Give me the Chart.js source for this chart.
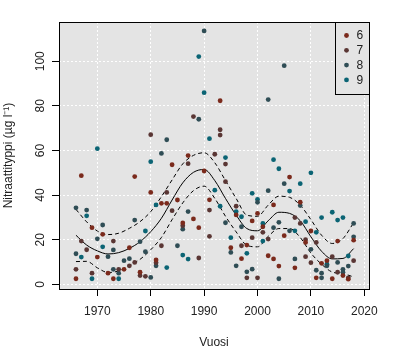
<!DOCTYPE html>
<html>
<head>
<meta charset="utf-8">
<script src="https://cdn.jsdelivr.net/npm/chart.js@4"></script>
<style>
  body { margin: 0; background: #fff; }
  #wrap { width: 400px; height: 363px; }
</style>
</head>
<body>
<div id="wrap"><canvas id="myChart"></canvas></div>
<script>
// measurements per month (x = year, y = nitrate)
const month6 = [
  {x:1966,y:2.5},{x:1967,y:48.7},{x:1969,y:25.4},{x:1970,y:12.2},{x:1971,y:22.4},{x:1972,y:5.0},
  {x:1973,y:2.5},{x:1975,y:6.7},{x:1976,y:16.4},{x:1977,y:48.3},{x:1978,y:5.4},{x:1980,y:41.2},
  {x:1981,y:10.9},{x:1982,y:36.3},{x:1983,y:36.3},{x:1984,y:53.6},{x:1985,y:37.8},{x:1986,y:27.5},
  {x:1987,y:57.7},{x:1988,y:29.3},{x:1989,y:25.4},{x:1990,y:50.8},{x:1991,y:37.9},{x:1993,y:82.3},
  {x:1995,y:16.4},{x:1996,y:31.1},{x:1997,y:11.5},{x:1998,y:17.6},{x:1999,y:28.4},{x:2000,y:31.8},
  {x:2001,y:25.8},{x:2002,y:12.8},{x:2003,y:35.6},{x:2003,y:11.4},{x:2004,y:8.2},{x:2005,y:21.8},
  {x:2006,y:48.1},{x:2007,y:7.4},{x:2008,y:36.8},{x:2009,y:18.8},{x:2010,y:23.9},{x:2011,y:2.9},
  {x:2012,y:9.4},{x:2013,y:10.6},{x:2014,y:2.5},{x:2015,y:19.4},{x:2016,y:3.9},{x:2017,y:2.3},
  {x:2018,y:19.8}
];
const month7 = [
  {x:1966,y:6.7},{x:1967,y:19.4},{x:1968,y:15.5},{x:1969,y:5.0},{x:1973,y:19.4},{x:1974,y:6.7},
  {x:1976,y:8.3},{x:1977,y:9.8},{x:1978,y:3.9},{x:1979,y:3.6},{x:1980,y:67.1},{x:1981,y:9.7},
  {x:1982,y:17.3},{x:1983,y:41.2},{x:1984,y:33.0},{x:1986,y:26.3},{x:1987,y:54.1},{x:1988,y:75.2},
  {x:1989,y:11.8},{x:1991,y:33.3},{x:1991,y:21.5},{x:1992,y:58.3},{x:1993,y:69.3},{x:1993,y:66.9},
  {x:1994,y:53.9},{x:1994,y:46.0},{x:1996,y:35.0},{x:1997,y:17.3},{x:1998,y:2.9},{x:1999,y:20.9},
  {x:2000,y:2.9},{x:2001,y:23.3},{x:2002,y:20.3},{x:2007,y:29.9},{x:2008,y:27.3},{x:2009,y:20.0},
  {x:2009,y:12.4},{x:2010,y:9.7},{x:2011,y:18.8},{x:2014,y:12.4},{x:2015,y:5.4},{x:2017,y:2.9},
  {x:2018,y:10.6}
];
const month8 = [
  {x:1966,y:34.3},{x:1966,y:13.7},{x:1968,y:33.3},{x:1970,y:20.4},{x:1971,y:26.6},{x:1972,y:12.4},
  {x:1973,y:15.4},{x:1973,y:6.7},{x:1974,y:5.0},{x:1975,y:10.6},{x:1976,y:11.5},{x:1977,y:28.8},
  {x:1978,y:19.1},{x:1979,y:14.6},{x:1980,y:3.1},{x:1981,y:8.3},{x:1982,y:58.7},{x:1983,y:64.8},
  {x:1985,y:17.3},{x:1986,y:24.7},{x:1987,y:32.6},{x:1989,y:74.0},{x:1990,y:113.6},{x:1994,y:27.6},
  {x:1995,y:14.3},{x:1996,y:8.3},{x:1997,y:25.8},{x:1998,y:5.6},{x:1999,y:6.8},{x:2000,y:36.8},
  {x:2002,y:42.0},{x:2002,y:82.8},{x:2003,y:25.4},{x:2004,y:27.8},{x:2004,y:2.5},{x:2005,y:45.1},
  {x:2005,y:98.0},{x:2006,y:24.0},{x:2007,y:11.4},{x:2008,y:35.3},{x:2010,y:15.7},{x:2011,y:6.3},
  {x:2012,y:5.0},{x:2012,y:2.9},{x:2013,y:8.3},{x:2015,y:9.8},{x:2016,y:6.7},{x:2016,y:5.4},
  {x:2017,y:8.2},{x:2018,y:27.3},{x:2018,y:21.3}
];
const month9 = [
  {x:1967,y:12.2},{x:1968,y:30.7},{x:1969,y:2.5},{x:1970,y:60.8},{x:1971,y:16.8},{x:1974,y:2.5},
  {x:1979,y:23.9},{x:1980,y:55.0},{x:1981,y:35.6},{x:1983,y:7.5},{x:1986,y:13.1},{x:1987,y:11.3},
  {x:1989,y:102.1},{x:1990,y:85.9},{x:1991,y:65.3},{x:1992,y:42.2},{x:1993,y:35.0},{x:1994,y:56.8},
  {x:1995,y:20.9},{x:1996,y:32.6},{x:1997,y:30.3},{x:1998,y:13.9},{x:1999,y:40.8},{x:2000,y:38.1},
  {x:2001,y:27.3},{x:2001,y:19.4},{x:2003,y:55.9},{x:2004,y:51.8},{x:2006,y:41.8},{x:2007,y:24.0},
  {x:2008,y:45.1},{x:2009,y:28.1},{x:2010,y:50.0},{x:2011,y:23.3},{x:2012,y:29.9},{x:2013,y:9.0},
  {x:2014,y:32.3},{x:2015,y:28.8},{x:2016,y:29.9},{x:2017,y:12.7}
];

// smoothed trend with confidence band
const fitYears = [1966,1968,1970,1972,1974,1976,1978,1980,1982,1984,1986,1988,1990,1992,
                  1994,1996,1998,2000,2002,2004,2006,2008,2010,2012,2014,2016,2018];
const fitMid   = [22.0,17.6,15.0,13.6,14.2,16.1,19.1,23.6,29.6,37.8,45.5,50.2,51.5,46.5,
                  38.5,31.0,25.0,24.0,28.5,32.3,31.8,28.5,21.3,14.8,11.4,11.6,16.0];
const fitUpper = [33.6,28.0,23.9,22.3,22.9,25.1,28.1,32.6,39.3,46.8,54.0,57.8,59.0,54.5,
                  46.5,38.5,31.0,30.5,35.5,39.5,39.0,35.5,29.0,22.0,18.3,20.5,27.6];
const fitLower = [10.2,10.3,7.4,5.3,6.0,8.5,11.2,15.5,21.0,29.0,36.5,42.0,44.0,38.5,
                  30.5,23.5,17.5,16.8,21.5,25.0,25.0,21.0,14.0,9.0,5.5,4.8,3.3];

const monthLabels = ['6', '7', '8', '9'];
const monthColors = ['#7b2a1c', '#5a3634', '#2f4d55', '#0b6474'];
const xTicks = [1970, 1980, 1990, 2000, 2010, 2020];
const yTicks = [0, 20, 40, 60, 80, 100];

const FONT = '"Liberation Sans", Arial, sans-serif';
const panelBg = '#e4e4e4';

const toXY = arr => arr.map((y, i) => ({x: fitYears[i], y: y}));

function pointSet(label, data, color) {
  return {
    type: 'scatter', label, data,
    backgroundColor: color, borderWidth: 0,
    pointRadius: 2.4, pointHoverRadius: 2.4
  };
}
function fitSet(label, data, dash) {
  return {
    type: 'line', label, data: toXY(data),
    borderColor: '#000', borderWidth: 1, borderDash: dash,
    pointRadius: 0, fill: false, cubicInterpolationMode: 'monotone'
  };
}

// grey panel behind the plot
const panel = {
  id: 'panel',
  beforeDraw(chart) {
    const a = chart.chartArea, ctx = chart.ctx;
    ctx.save();
    ctx.fillStyle = panelBg;
    ctx.fillRect(a.left, a.top, a.right - a.left, a.bottom - a.top);
    ctx.restore();
  }
};

// y labels are written upwards, box and legend on top
const frame = {
  id: 'frame',
  afterDraw(chart) {
    const ctx = chart.ctx, a = chart.chartArea, ys = chart.scales.y;
    ctx.save();
    ctx.font = '12px ' + FONT;
    ctx.fillStyle = '#222';
    ctx.textAlign = 'center';
    ctx.textBaseline = 'alphabetic';
    yTicks.forEach(v => {
      ctx.save();
      ctx.translate(ys.right - 15.5, ys.getPixelForValue(v));
      ctx.rotate(-Math.PI / 2);
      ctx.fillText(String(v), 0, 0);
      ctx.restore();
    });

    ctx.strokeStyle = '#000';
    ctx.lineWidth = 1;
    ctx.strokeRect(a.left + 0.5, a.top + 0.5, a.right - a.left, a.bottom - a.top);

    // legend
    const lw = 34, lh = 72;
    const lx = a.right - lw, ly = a.top;
    ctx.fillStyle = panelBg;
    ctx.fillRect(lx, ly, lw, lh);
    ctx.strokeRect(lx + 0.5, ly + 0.5, lw, lh);
    ctx.textAlign = 'left';
    ctx.textBaseline = 'middle';
    monthLabels.forEach((lab, i) => {
      const cy = ly + 13.5 + i * 14.8;
      ctx.fillStyle = monthColors[i];
      ctx.beginPath();
      ctx.arc(lx + 11.5, cy, 2.4, 0, Math.PI * 2);
      ctx.fill();
      ctx.fillStyle = '#222';
      ctx.fillText(lab, lx + 21.5, cy + 0.5);
    });
    ctx.restore();
  }
};

const config = {
  data: {
    datasets: [
      pointSet(monthLabels[0], month6, monthColors[0]),
      pointSet(monthLabels[1], month7, monthColors[1]),
      pointSet(monthLabels[2], month8, monthColors[2]),
      pointSet(monthLabels[3], month9, monthColors[3]),
      fitSet('fit', fitMid, []),
      fitSet('upper', fitUpper, [4, 3]),
      fitSet('lower', fitLower, [4, 3])
    ]
  },
  options: {
    responsive: true,
    maintainAspectRatio: false,
    animation: false,
    layout: { padding: { left: 0, top: 22, right: 31, bottom: 0 } },
    plugins: { legend: { display: false }, tooltip: { enabled: false } },
    scales: {
      x: {
        type: 'linear', min: 1962.82, max: 2020.88,
        afterBuildTicks: s => { s.ticks = xTicks.map(v => ({value: v})); },
        afterFit: s => { s.height = 74; },
        ticks: { font: { family: FONT, size: 12 }, color: '#222', padding: 8, maxRotation: 0,
                 callback: v => String(v) },
        grid: { color: '#fff', lineWidth: 1, tickColor: '#000', tickLength: 7, tickBorderDash: [] },
        border: { display: false, dash: [2, 2] },
        title: { display: true, text: 'Vuosi', font: { family: FONT, size: 12 }, color: '#222',
                 padding: { top: 0, bottom: 13 } }
      },
      y: {
        type: 'linear', min: -2.1, max: 117.6,
        afterBuildTicks: s => { s.ticks = yTicks.map(v => ({value: v})); },
        afterFit: s => { s.width = 59; },
        ticks: { display: false },
        grid: { color: '#fff', lineWidth: 1, tickColor: '#000', tickLength: 7, tickBorderDash: [] },
        border: { display: false, dash: [2, 2] },
        title: { display: true, text: 'Nitraattityppi (µg l⁻¹)', font: { family: FONT, size: 12 },
                 color: '#222', padding: { top: 1, bottom: 1 } }
      }
    }
  },
  plugins: [panel, frame]
};

const myChart = new Chart(document.getElementById('myChart'), config);
</script>
</body>
</html>
